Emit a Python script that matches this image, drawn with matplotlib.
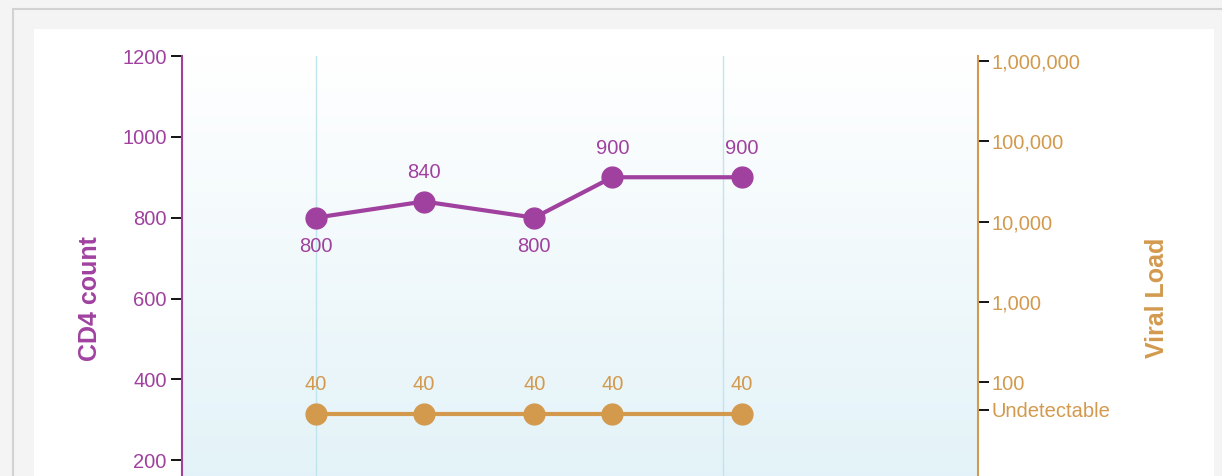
import numpy as np
import matplotlib
matplotlib.use("Agg")
import matplotlib.pyplot as plt
import matplotlib.dates as mdates
from matplotlib.patches import Rectangle
from matplotlib.colors import LinearSegmentedColormap
from matplotlib.ticker import FixedLocator, FixedFormatter
from datetime import datetime

# Test dates and results
test_dates = ["2015-01-01", "2015-04-08", "2015-07-16", "2015-09-24", "2016-01-18"]
cd4_counts = [800, 840, 800, 900, 900]
cd4_label_side = ["below", "above", "below", "above", "above"]
viral_loads = [40, 40, 40, 40, 40]
year_lines = ["2015-01-01", "2016-01-01"]

cd4_ticks = [200, 400, 600, 800, 1000, 1200]
vl_ticks = [45, 100, 1000, 10000, 100000, 1000000]
vl_tick_labels = ["Undetectable", "100", "1,000", "10,000", "100,000", "1,000,000"]

PURPLE = "#a0419f"
ORANGE = "#d39a4e"
GRID = "#bfe5ef"

plt.rcParams['font.family'] = ['Liberation Sans', 'DejaVu Sans']

W, H = 1222, 476
fig = plt.figure(figsize=(W / 100, H / 100), dpi=100)
fig.patch.set_facecolor("#f4f4f4")

def fx(px):
    return px / W

def fy(py):
    return 1 - py / H

# outer frame and white panel (drawn under the axes)
fig.patches.append(Rectangle((fx(13), fy(600)), fx(1300), fy(9) - fy(600),
                             transform=fig.transFigure, facecolor="#f4f4f4",
                             edgecolor="#d2d2d2", linewidth=1.5, zorder=-2))
fig.patches.append(Rectangle((fx(34), fy(600)), fx(1214 - 34), fy(29) - fy(600),
                             transform=fig.transFigure, facecolor="white",
                             edgecolor="none", zorder=-1))

x = mdates.date2num([datetime.strptime(d, "%Y-%m-%d") for d in test_dates])
grid_x = mdates.date2num([datetime.strptime(d, "%Y-%m-%d") for d in year_lines])

# plot area runs past the bottom of the picture (cropped)
ax = fig.add_axes([fx(182), fy(541), fx(978 - 182), (541 - 56) / H])
ax.patch.set_alpha(0)
ax.set_xlim(mdates.date2num(datetime(2014, 9, 3)), mdates.date2num(datetime(2016, 8, 17)))
ax.set_ylim(0, 1200)

# background gradient, white at top to pale blue at bottom
cmap = LinearSegmentedColormap.from_list("bg", ["#ffffff", "#dff1f7"])
grad = np.linspace(0, 1, 256).reshape(-1, 1)
ax.imshow(grad, cmap=cmap, aspect="auto", extent=[0, 1, 0, 1], origin="upper",
          transform=ax.transAxes, zorder=0, vmin=0, vmax=1)

for gx in grid_x:
    ax.axvline(gx, color=GRID, linewidth=1, zorder=1)

ax.plot(x, cd4_counts, color=PURPLE, linewidth=3, marker="o", markersize=15,
        zorder=4, solid_joinstyle="round")
for xi, v, side in zip(x, cd4_counts, cd4_label_side):
    dy = 21 if side == "above" else -21
    ax.annotate(str(v), (xi, v), xytext=(0, dy), textcoords="offset points",
                ha="center", va="center", color=PURPLE, fontsize=14.5, zorder=5)

ax.set_yticks(cd4_ticks)
ax.set_yticklabels([str(t) for t in cd4_ticks])
ax.tick_params(axis="y", colors="black", labelcolor=PURPLE, length=8, width=1.3,
               pad=3, labelsize=14.5)
ax.set_xticks([])
for s in ["top", "bottom", "right"]:
    ax.spines[s].set_visible(False)
ax.spines["left"].set_color(PURPLE)
ax.spines["left"].set_linewidth(1.5)

# viral load on log axis
ax2 = ax.twinx()
ax2.set_yscale("log")
ax2.set_ylim(10 ** 0.02, 10 ** 6.062)
ax2.plot(x, viral_loads, color=ORANGE, linewidth=3, marker="o", markersize=15, zorder=4)
for xi, v in zip(x, viral_loads):
    ax2.annotate(str(v), (xi, v), xytext=(0, 21), textcoords="offset points",
                 ha="center", va="center", color=ORANGE, fontsize=14.5)

ax2.yaxis.set_major_locator(FixedLocator(vl_ticks))
ax2.yaxis.set_major_formatter(FixedFormatter(vl_tick_labels))
ax2.yaxis.set_minor_locator(FixedLocator([]))
ax2.tick_params(axis="y", colors="black", labelcolor=ORANGE, length=8, width=1.3,
                pad=1.5, labelsize=14.5)
for s in ["top", "bottom", "left"]:
    ax2.spines[s].set_visible(False)
ax2.spines["right"].set_color(ORANGE)
ax2.spines["right"].set_linewidth(1.5)

fig.text(fx(90), fy(299), "CD4 count", rotation=90, ha="center", va="center",
         color=PURPLE, fontsize=18, fontweight="bold")
fig.text(fx(1157), fy(298), "Viral Load", rotation=90, ha="center", va="center",
         color=ORANGE, fontsize=18, fontweight="bold")

fig.savefig("out.png", dpi=100, facecolor=fig.get_facecolor())
